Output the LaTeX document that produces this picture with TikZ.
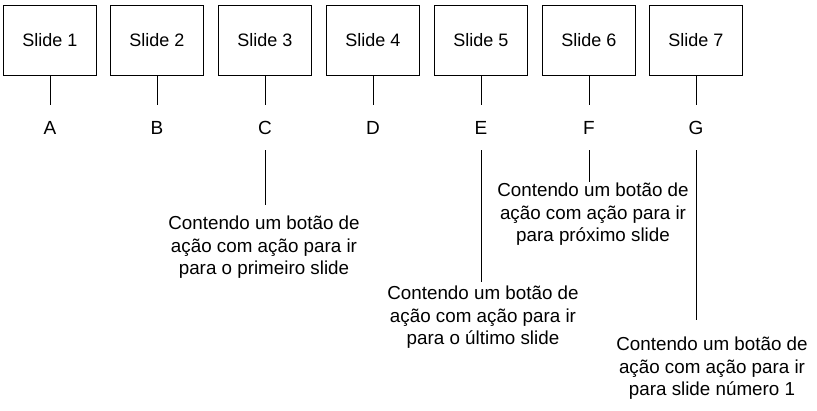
\documentclass[tikz,border=0pt]{standalone}
\usepackage{fontspec}
\setmainfont{Liberation Sans}
\begin{document}
\begin{tikzpicture}[x=1pt,y=-1pt,
  box/.style={draw,line width=1pt,minimum width=93pt,minimum height=70pt,font=\fontsize{18}{20}\selectfont},
  lab/.style={font=\fontsize{19}{20}\selectfont,inner sep=1pt},
  note/.style={font=\fontsize{18.8}{22.5}\selectfont,align=center,inner sep=1pt},
  ln/.style={line width=1pt}]
\useasboundingbox (0,0) rectangle (817,410);
\foreach \i/\x/\l in {1/50/A,2/157/B,3/265/C,4/373/D,5/481/E,6/589/F,7/696/G}{
  \node[box] (s\i) at (\x,40) {Slide \i};
  \node[lab] (l\i) at (\x,128) {\l};
  \coordinate (t\i) at (\x,105);
  \draw[ln] (s\i.south) -- (t\i);
}
\coordinate (c3) at (265,150); \coordinate (c5) at (481,150);
\coordinate (c6) at (589,150); \coordinate (c7) at (696,150);
\node[note,anchor=north] (n3) at (264,215) {Contendo um botão de\\ação com ação para ir\\para o primeiro slide};
\node[note,anchor=north] (n5) at (483,285) {Contendo um botão de\\ação com ação para ir\\para o último slide};
\node[note,anchor=north] (n6) at (593,182) {Contendo um botão de\\ação com ação para ir\\para próximo slide};
\node[note,anchor=north] (n7) at (712,336) {Contendo um botão de\\ação com ação para ir\\para slide número 1};
\draw[ln] (c3) -- (265,205);
\draw[ln] (c5) -- (481,282);
\draw[ln] (c6) -- (589,182);
\draw[ln] (c7) -- (696,320);
\end{tikzpicture}
\end{document}
